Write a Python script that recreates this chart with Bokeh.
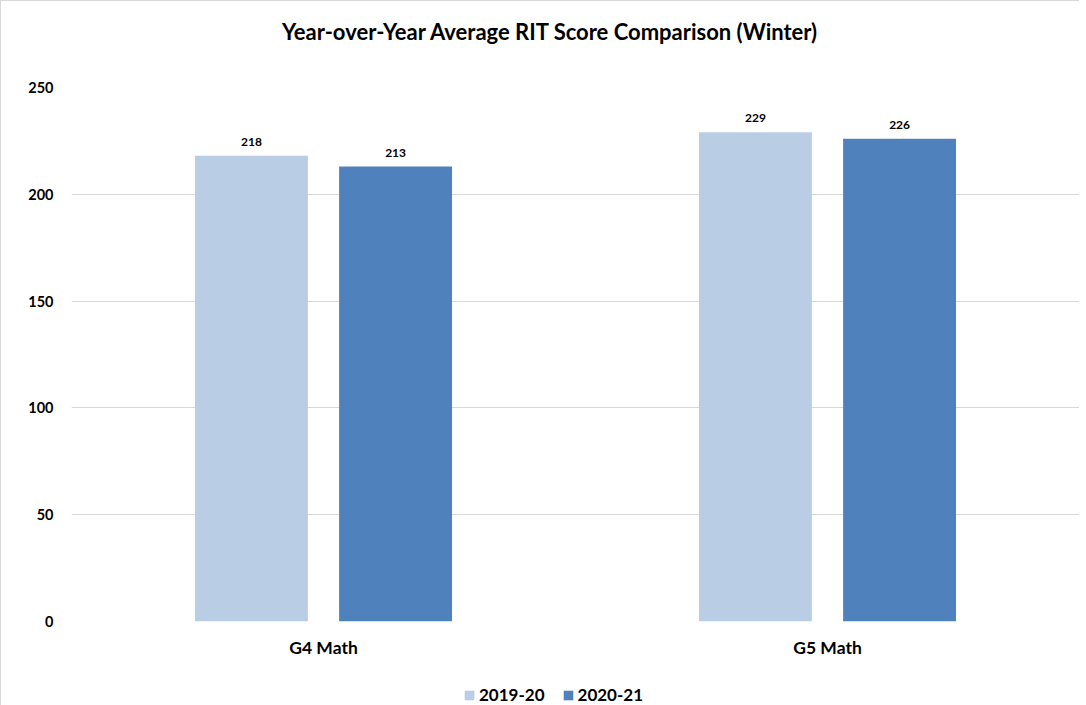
from bokeh.plotting import figure
from bokeh.layouts import column
from bokeh.models import ColumnDataSource, FactorRange, LabelSet, Legend, LegendItem, Label, Range1d, SingleIntervalTicker
from bokeh.transform import dodge
from bokeh.embed import file_html
from bokeh.resources import INLINE
from bokeh.core.properties import value

categories = ["G4 Math", "G5 Math"]
series_names = ["2019-20", "2020-21"]
vals_2019 = [218, 229]
vals_2020 = [213, 226]
title_text = "Year-over-Year Average RIT Score Comparison (Winter)"

FONT = "Lato"
C1 = "#b9cde5"
C2 = "#4f81bd"
W = 1078


def strip(h):
    f = figure(width=W, height=h, x_range=Range1d(0, 1), y_range=Range1d(0, 1),
               output_backend="svg", toolbar_location=None,
               x_axis_location=None, y_axis_location=None,
               min_border_left=0, min_border_right=0, min_border_top=0, min_border_bottom=0)
    f.grid.visible = False
    f.outline_line_color = None
    f.border_fill_color = "white"
    return f


# title strip (its frame is aligned with the main plot's frame, which starts 70px in)
p0 = strip(76)
p0.add_layout(Label(x=479, y=46, x_units="screen", y_units="screen", text=title_text,
                    text_align="center", text_baseline="middle",
                    text_font=FONT, text_font_style="bold", text_font_size="22px",
                    text_color="#000000"))

src = ColumnDataSource(data=dict(
    cat=categories,
    v1=vals_2019,
    v2=vals_2020,
    t1=[str(v) for v in vals_2019],
    t2=[str(v) for v in vals_2020],
))

p = figure(width=W, height=594, x_range=FactorRange(factors=categories),
           y_range=Range1d(0, 250), output_backend="svg", toolbar_location=None,
           min_border_left=70, min_border_right=0, min_border_top=10, min_border_bottom=50)
p.outline_line_color = None
p.background_fill_color = "white"
p.border_fill_color = "white"

off = 0.143
w = 0.224
r1 = p.vbar(x=dodge("cat", -off, range=p.x_range), top="v1", width=w, source=src,
            fill_color=C1, line_color=None)
r2 = p.vbar(x=dodge("cat", off, range=p.x_range), top="v2", width=w, source=src,
            fill_color=C2, line_color=None)

for col, txt, d in (("v1", "t1", -off), ("v2", "t2", off)):
    p.add_layout(LabelSet(x=dodge("cat", d, range=p.x_range), y=col, text=txt, source=src,
                          y_offset=10, text_align="center", text_baseline="bottom",
                          text_font=value(FONT), text_font_style="bold",
                          text_font_size="12px", text_color="#000000"))

p.yaxis.ticker = SingleIntervalTicker(interval=50)
p.yaxis.axis_line_color = None
p.yaxis.major_tick_line_color = None
p.yaxis.minor_tick_line_color = None
p.yaxis.major_tick_out = 0
p.yaxis.major_tick_in = 0
p.yaxis.major_label_standoff = 14
p.yaxis.major_label_text_font = FONT
p.yaxis.major_label_text_font_style = "bold"
p.yaxis.major_label_text_font_size = "14.5px"
p.yaxis.major_label_text_color = "#000000"

p.xaxis.axis_line_color = None
p.xaxis.major_tick_line_color = None
p.xaxis.major_tick_out = 0
p.xaxis.major_tick_in = 0
p.xaxis.major_label_standoff = 15
p.xaxis.major_label_text_font = FONT
p.xaxis.major_label_text_font_style = "bold"
p.xaxis.major_label_text_font_size = "17.5px"
p.xaxis.major_label_text_color = "#000000"

p.xgrid.grid_line_color = None
p.ygrid.grid_line_color = "#d9d9d9"
p.ygrid.grid_line_width = 1

# legend strip (zero-height proxy bars carry the legend swatches)
p2 = strip(35)
proxy = ColumnDataSource(data=dict(x=[0.5], top=[0]))
d1 = p2.vbar(x="x", top="top", width=0.01, source=proxy, fill_color=C1, line_color=None)
d2 = p2.vbar(x="x", top="top", width=0.01, source=proxy, fill_color=C2, line_color=None)
legend = Legend(items=[LegendItem(label=series_names[0], renderers=[d1]),
                       LegendItem(label=series_names[1], renderers=[d2])],
                orientation="horizontal", location=(392, 1),
                padding=0, margin=0, spacing=17, label_standoff=4,
                glyph_width=12, glyph_height=12, label_height=20,
                label_text_font=FONT, label_text_font_style="bold",
                label_text_font_size="17px", label_text_color="#000000",
                border_line_color=None, background_fill_alpha=0)
p2.add_layout(legend, "center")

layout = column(p0, p, p2, spacing=0)
layout.styles = {"border-top": "1px solid #d9d9d9", "border-left": "1px solid #d9d9d9"}
open("out.html", "w").write(file_html(layout, INLINE))
